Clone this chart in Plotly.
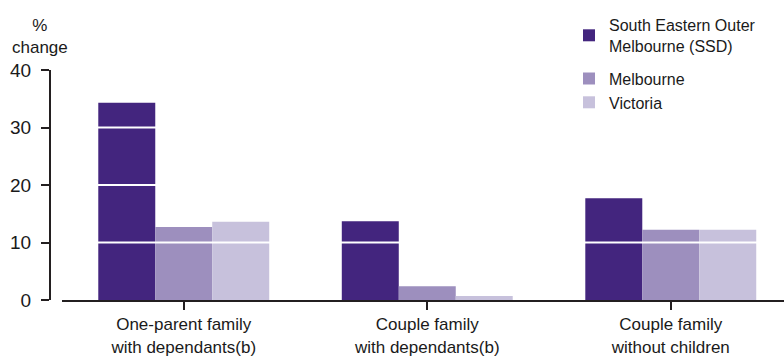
import plotly.graph_objects as go

# Percentage change in family types, by region
categories = [
    "One-parent family<br>with dependants(b)",
    "Couple family<br>with dependants(b)",
    "Couple family<br>without children",
]
ssd = [34.3, 13.7, 17.7]
melbourne = [12.7, 2.4, 12.2]
victoria = [13.6, 0.7, 12.2]

series_names = ["South Eastern Outer<br>Melbourne (SSD)", "Melbourne", "Victoria"]
series_colors = ["#43257e", "#9d8fbe", "#c7c1dc"]
series_groups = ["a", "b", "b"]

y_ticks = [0, 10, 20, 30, 40]

FONT = "Liberation Sans, Arial, sans-serif"
TEXT = "#1a1a1a"
AXIS = "#231f20"

fig = go.Figure()
for name, vals, color, grp in zip(series_names, [ssd, melbourne, victoria],
                                  series_colors, series_groups):
    fig.add_trace(go.Bar(
        x=categories, y=vals, name=name, marker_color=color,
        marker_line_width=0, legendgroup=grp,
    ))

# White gridlines drawn on top of the bars
for t in y_ticks[1:-1]:
    fig.add_shape(type="line", xref="x domain", yref="y",
                  x0=0, x1=1, y0=t, y1=t,
                  line=dict(color="white", width=2), layer="above")

fig.add_annotation(
    text="%<br>change", xref="paper", yref="paper",
    x=-0.0136, y=1.145, xanchor="center", yanchor="middle",
    showarrow=False, font=dict(family=FONT, size=17, color=TEXT),
)

fig.update_layout(
    width=784, height=356,
    margin=dict(l=50, r=0, t=70, b=56, autoexpand=False),
    paper_bgcolor="white", plot_bgcolor="white",
    barmode="group", bargap=0.298, bargroupgap=0,
    font=dict(family=FONT, color=TEXT),
    showlegend=True,
    legend=dict(
        xref="container", yref="container",
        x=569 / 784, y=1 - 8 / 356, xanchor="left", yanchor="top",
        font=dict(family=FONT, size=16, color=TEXT),
        traceorder="grouped", tracegroupgap=9,
        bgcolor="rgba(0,0,0,0)", borderwidth=0,
        itemclick=False,
    ),
    xaxis=dict(
        domain=[12 / 734, 1], range=[-0.5, 2.465],
        showline=True, linecolor=AXIS, linewidth=2,
        ticks="outside", ticklen=8, tickwidth=2, tickcolor=AXIS,
        showgrid=False, zeroline=False,
        tickfont=dict(family=FONT, size=17, color=TEXT),
    ),
    yaxis=dict(
        range=[0, 40], tickvals=y_ticks, anchor="free", position=0,
        showline=True, linecolor=AXIS, linewidth=2,
        ticks="outside", ticklen=8, tickwidth=2, tickcolor=AXIS,
        showgrid=False, zeroline=False, ticklabelstandoff=6,
        tickfont=dict(family=FONT, size=19, color=TEXT),
    ),
)

fig.write_html("out.html")
